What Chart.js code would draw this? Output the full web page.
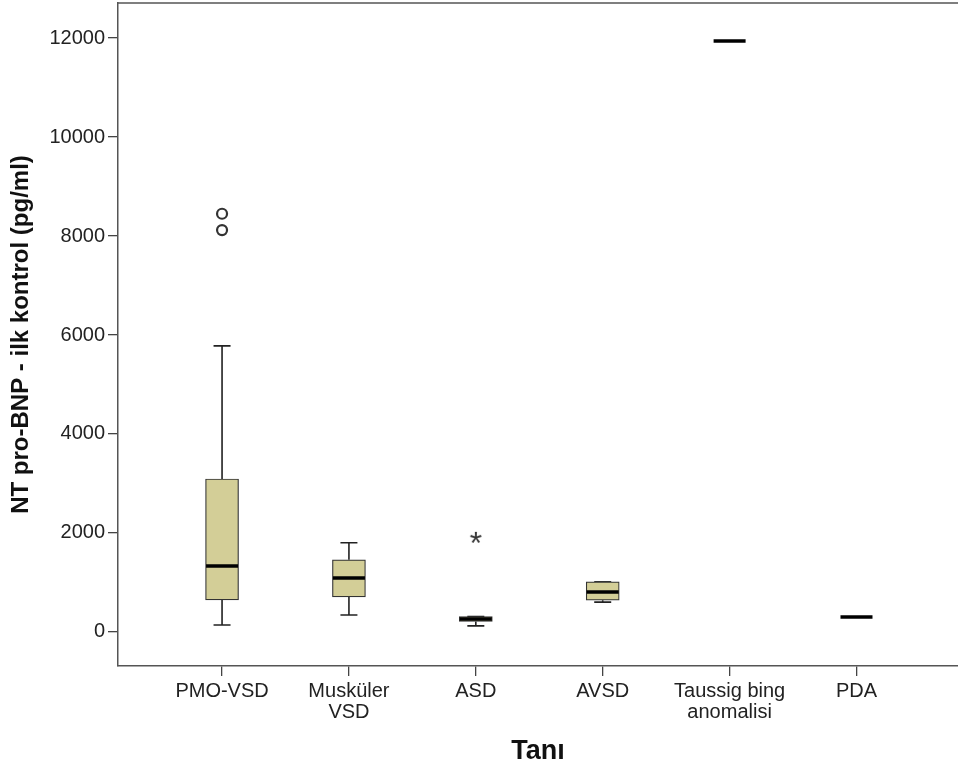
<!DOCTYPE html>
<html>
<head>
<meta charset="utf-8">
<script src="https://cdn.jsdelivr.net/npm/chart.js@4.4.1/dist/chart.umd.min.js"></script>
<style>
  body { margin: 0; background: #fff; }
  #wrap { width: 958px; height: 774px; }
</style>
</head>
<body>
<div id="wrap"><canvas id="boxChart"></canvas></div>
<script>
// values
const categories = [["PMO-VSD"], ["Musküler", "VSD"], ["ASD"], ["AVSD"], ["Taussig bing", "anomalisi"], ["PDA"]];
const lowWhisker = [140, 340, 120, 600, null, null];
const q1 = [646, 707, 210, 640, null, null];
const medians = [1330, 1090, 260, 808, 11940, 300];
const q3 = [3090, 1455, 310, 1010, null, null];
const highWhisker = [5780, 1800, 310, 1010, null, null];
const outlierCat = [0, 0];
const outlierVal = [8120, 8450];
const extremeCat = [2];
const extremeVal = [1900];
const yTicks = [0, 2000, 4000, 6000, 8000, 10000, 12000];

const boxData = [];
categories.forEach((c, i) => {
  if (q1[i] != null) boxData.push({ x: i, y: [q1[i], q3[i]] });
});

// asterisk marker for extreme values
const star = document.createElement("canvas");
star.width = 24; star.height = 24;
const sctx = star.getContext("2d");
sctx.fillStyle = "#333";
sctx.font = "32px 'Liberation Sans', Arial";
sctx.textAlign = "center";
sctx.textBaseline = "middle";
sctx.fillText("*", 12, 19);

const BOX_W = 33, CAP_W = 17;

const boxParts = {
  id: "boxParts",
  beforeDatasetsDraw(chart) {
    const { ctx, scales: { x, y } } = chart;
    ctx.save();
    ctx.strokeStyle = "#222";
    ctx.lineWidth = 1.6;
    categories.forEach((c, i) => {
      if (lowWhisker[i] == null) return;
      const cx = x.getPixelForValue(i);
      const segs = [[q1[i], lowWhisker[i]], [q3[i], highWhisker[i]]];
      segs.forEach(([from, to]) => {
        const y0 = y.getPixelForValue(from), y1 = y.getPixelForValue(to);
        ctx.beginPath();
        ctx.moveTo(cx, y0); ctx.lineTo(cx, y1);
        ctx.moveTo(cx - CAP_W / 2, y1); ctx.lineTo(cx + CAP_W / 2, y1);
        ctx.stroke();
      });
    });
    ctx.restore();
  },
  afterDatasetsDraw(chart) {
    const { ctx, chartArea, scales: { x, y } } = chart;
    ctx.save();
    ctx.strokeStyle = "#000";
    ctx.lineWidth = 3.5;
    medians.forEach((m, i) => {
      const cx = x.getPixelForValue(i), ym = y.getPixelForValue(m);
      ctx.beginPath();
      ctx.moveTo(cx - BOX_W / 2 + 0.5, ym); ctx.lineTo(cx + BOX_W / 2 - 0.5, ym);
      ctx.stroke();
    });
    // top frame line
    ctx.strokeStyle = "#555";
    ctx.lineWidth = 1.5;
    ctx.beginPath();
    ctx.moveTo(chartArea.left, chartArea.top); ctx.lineTo(chartArea.right, chartArea.top);
    ctx.stroke();
    ctx.restore();
  }
};

function noPad(scale) {
  scale.paddingTop = 0; scale.paddingBottom = 0;
  scale.paddingLeft = 0; scale.paddingRight = 0;
}

new Chart(document.getElementById("boxChart"), {
  data: {
    datasets: [
      {
        type: "bar",
        data: boxData,
        backgroundColor: "#d3ce97",
        borderColor: "#333",
        borderWidth: 1.2,
        borderSkipped: false,
        barThickness: BOX_W
      },
      {
        type: "scatter",
        data: outlierCat.map((c, i) => ({ x: c, y: outlierVal[i] })),
        pointStyle: "circle",
        pointRadius: 5,
        borderWidth: 2.2,
        borderColor: "#333",
        backgroundColor: "rgba(0,0,0,0)"
      },
      {
        type: "scatter",
        data: extremeCat.map((c, i) => ({ x: c, y: extremeVal[i] })),
        pointStyle: star,
        pointRadius: 6
      }
    ]
  },
  options: {
    responsive: true,
    maintainAspectRatio: false,
    animation: false,
    layout: { autoPadding: false, padding: { top: 3, right: 0, left: 0, bottom: 0 } },
    plugins: { legend: { display: false }, tooltip: { enabled: false } },
    scales: {
      x: {
        type: "linear",
        offset: false,
        min: -0.82,
        max: 5.8,
        afterFit(scale) { scale.height = 108; noPad(scale); },
        afterBuildTicks(scale) {
          scale.ticks = categories.map((c, i) => ({ value: i }));
        },
        grid: { offset: false, drawOnChartArea: false, drawTicks: true, tickLength: 10, color: "#444", lineWidth: 1.3 },
        border: { display: true, color: "#555", width: 1.5 },
        ticks: {
          autoSkip: false,
          maxRotation: 0,
          padding: 5,
          color: "#222",
          font: { family: "'Liberation Sans', Arial", size: 20, lineHeight: 1.05 },
          callback: (v) => categories[v]
        },
        title: {
          display: true,
          text: "Tanı",
          color: "#111",
          font: { family: "'Liberation Sans', Arial", size: 27, weight: "bold" },
          padding: { top: 0, bottom: 6 }
        }
      },
      y: {
        type: "linear",
        min: -690,
        max: 12710,
        afterFit(scale) { scale.width = 118; noPad(scale); },
        afterBuildTicks(scale) {
          scale.ticks = yTicks.map(v => ({ value: v }));
        },
        grid: { drawOnChartArea: false, drawTicks: true, tickLength: 10, color: "#444", lineWidth: 1.3 },
        border: { display: true, color: "#555", width: 1.5 },
        ticks: {
          padding: 3,
          color: "#222",
          font: { family: "'Liberation Sans', Arial", size: 20 },
          callback: (v) => String(v)
        },
        title: {
          display: true,
          text: "NT pro-BNP - ilk kontrol (pg/ml)",
          color: "#111",
          font: { family: "'Liberation Sans', Arial", size: 24, weight: "bold" },
          padding: { top: 7, bottom: 0 }
        }
      }
    }
  },
  plugins: [boxParts]
});
</script>
</body>
</html>
